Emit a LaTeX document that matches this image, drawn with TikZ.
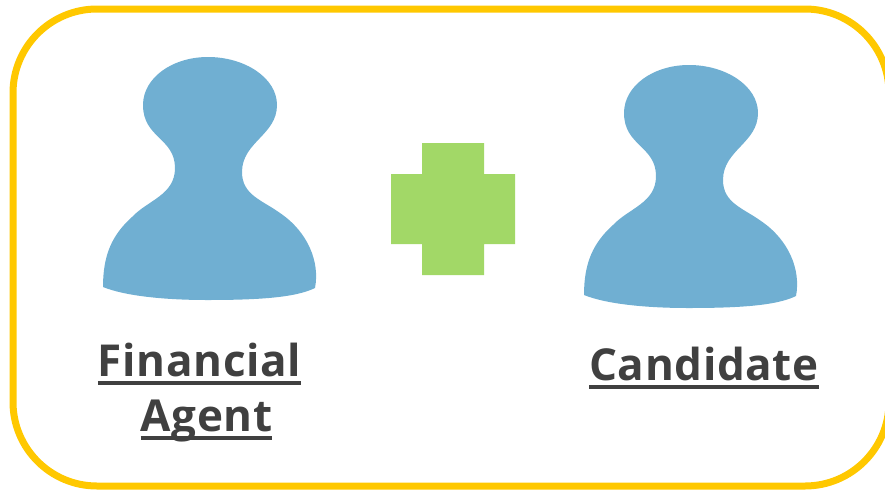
\documentclass[tikz,border=0pt]{standalone}
\usepackage{fontspec}
\setmainfont{Open Sans}[LetterSpace=1.5]
\usepackage{xcolor}
\definecolor{frameyellow}{HTML}{FFC800}
\definecolor{personblue}{HTML}{70AFD2}
\definecolor{plusgreen}{HTML}{A2D867}
\definecolor{labelgray}{HTML}{404040}
\newcommand{\ulword}[1]{\leavevmode\setbox0\hbox{#1}\rlap{\rule[-8pt]{\wd0}{3.5pt}}\box0}
\tikzset{
  boxframe/.style={draw=frameyellow, line width=7pt, rounded corners=84pt},
  person/.pic={
    \fill[personblue] (208,57) .. controls (172,57) and (143,78) .. (143,105)
      .. controls (143,138) and (175,138) .. (175,168)
      .. controls (175,195) and (148,200) .. (132,217)
      .. controls (112,235) and (103,255) .. (103,287)
      .. controls (125,296) and (165,300) .. (207,300)
      .. controls (255,300) and (295,298) .. (315,288)
      .. controls (320,262) and (308,232) .. (280,213)
      .. controls (262,200) and (242,195) .. (242,172)
      .. controls (242,142) and (277,135) .. (277,105)
      .. controls (277,78) and (245,57) .. (208,57) -- cycle;
  },
  namelabel/.style={font=\fontsize{44}{55}\selectfont\bfseries, text=labelgray, align=center, inner sep=0pt},
}
\begin{document}
\begin{tikzpicture}[x=1pt, y=-1pt]
    \useasboundingbox (0,0) rectangle (885,490);
    % Frame
    \draw[boxframe] (13,9) rectangle (889,486);

    % People
    \pic (agent) at (0,0) {person};
    \pic (candidate) at (481,8) {person};

    % Plus
    \fill[plusgreen] (422,143) -- (484,143) -- (484,174) -- (515,174) -- (515,244) -- (484,244)
      -- (484,275) -- (422,275) -- (422,244) -- (391,244) -- (391,174) -- (422,174) -- cycle;

    % Labels
    \node[namelabel] (financial) at (199.5,393) {\ulword{Financial}\\ \hspace*{14pt}\ulword{Agent}};
    \node[namelabel] (cand) at (704,368) {\ulword{Candidate}};
\end{tikzpicture}
\end{document}
